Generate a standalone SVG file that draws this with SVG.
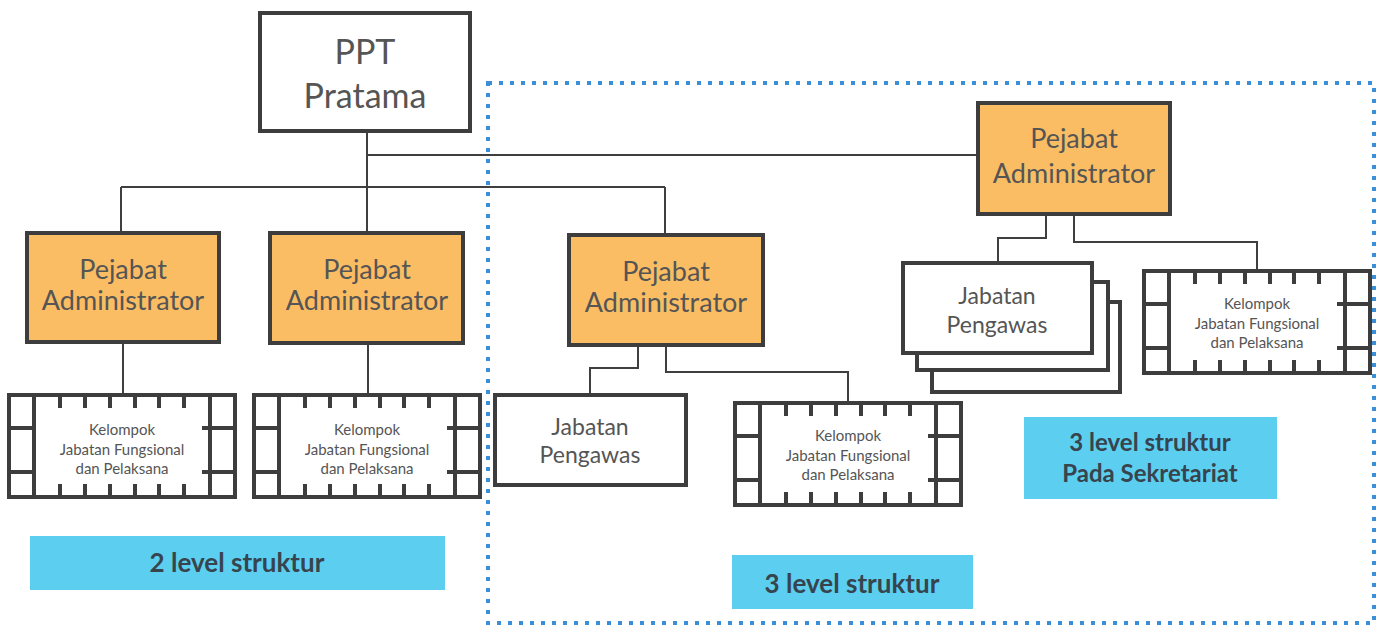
<svg xmlns="http://www.w3.org/2000/svg" xmlns:xlink="http://www.w3.org/1999/xlink" width="1385" height="628" viewBox="0 0 1385 628">
<style>
.box{stroke:#3d3d3d;stroke-width:4;}
.adm{fill:#fabd63;}
.wht{fill:#ffffff;}
.con{fill:none;stroke:#3f3f3f;stroke-width:2;}
.t{font-family:Lato,"Open Sans","Liberation Sans",sans-serif;fill:#555555;text-anchor:middle;}
.big{font-size:34px;}
.mid{font-size:27px;}
.jp{font-size:23px;}
.sm{font-size:15px;}
.lab{fill:#5ccff0;}
.lt{font-family:Lato,"Open Sans","Liberation Sans",sans-serif;font-weight:bold;fill:#37444e;text-anchor:middle;}
.dot{fill:none;stroke:#3a8fd8;stroke-width:4;stroke-dasharray:4 7;}
</style>
<defs>
<symbol id="kel" width="232" height="108" overflow="visible">
<rect x="2" y="2" width="226" height="102" fill="#ffffff" stroke="#3d3d3d" stroke-width="4"/>
<path d="M27 2V104M203 2V104M2 35H27M2 79H27M195 35H228M195 79H228" fill="none" stroke="#3d3d3d" stroke-width="4"/>
<path d="M53 2V15M78 2V15M103 2V15M128 2V15M152 2V15M177 2V15M53 91V104M78 91V104M103 91V104M128 91V104M152 91V104M177 91V104" fill="none" stroke="#3d3d3d" stroke-width="4"/>
</symbol>
</defs>
<rect width="1385" height="628" fill="#ffffff"/>
<rect class="dot" x="488" y="83" width="886" height="540"/>
<g id="connectors">
<path class="con" d="M367 131V187M367 155H978M121 187H665M121 187V233M367 187V233M665 187V235"/>
<path class="con" d="M123 342V393M368 343V393"/>
<path class="con" d="M638 345V368H590V395M666 345V372H848V401"/>
<path class="con" d="M1046 214V238H998V263M1074 214V242H1257V269"/>
</g>
<g id="ppt">
<rect class="box wht" x="260" y="13" width="210" height="118"/>
<text class="t big" x="365" y="64">PPT</text>
<text class="t big" x="365" y="108">Pratama</text>
</g>
<g id="adm1">
<rect class="box adm" x="27" y="233" width="192" height="109"/>
<text class="t mid" x="123" y="279">Pejabat</text>
<text class="t mid" x="123" y="310">Administrator</text>
</g>
<g id="adm2">
<rect class="box adm" x="270" y="233" width="193" height="110"/>
<text class="t mid" x="367" y="279">Pejabat</text>
<text class="t mid" x="367" y="310">Administrator</text>
</g>
<g id="adm3">
<rect class="box adm" x="569" y="235" width="194" height="110"/>
<text class="t mid" x="666" y="281">Pejabat</text>
<text class="t mid" x="666" y="312">Administrator</text>
</g>
<g id="adm4">
<rect class="box adm" x="978" y="103" width="192" height="111"/>
<text class="t mid" x="1074" y="148">Pejabat</text>
<text class="t mid" x="1074" y="183">Administrator</text>
</g>
<g id="kel1">
<use xlink:href="#kel" x="7" y="393"/>
<text class="t sm" x="122" y="435">Kelompok</text>
<text class="t sm" x="122" y="455">Jabatan Fungsional</text>
<text class="t sm" x="122" y="474">dan Pelaksana</text>
</g>
<g id="kel2">
<use xlink:href="#kel" x="252" y="393"/>
<text class="t sm" x="367" y="435">Kelompok</text>
<text class="t sm" x="367" y="455">Jabatan Fungsional</text>
<text class="t sm" x="367" y="474">dan Pelaksana</text>
</g>
<g id="kel3">
<use xlink:href="#kel" x="733" y="401"/>
<text class="t sm" x="848" y="441">Kelompok</text>
<text class="t sm" x="848" y="461">Jabatan Fungsional</text>
<text class="t sm" x="848" y="480">dan Pelaksana</text>
</g>
<g id="kel4">
<use xlink:href="#kel" x="1142" y="269"/>
<text class="t sm" x="1257" y="309">Kelompok</text>
<text class="t sm" x="1257" y="329">Jabatan Fungsional</text>
<text class="t sm" x="1257" y="348">dan Pelaksana</text>
</g>
<g id="pengawas1">
<rect class="box wht" x="495" y="395" width="191" height="90"/>
<text class="t jp" x="590" y="435">Jabatan</text>
<text class="t jp" x="590" y="463">Pengawas</text>
</g>
<g id="pengawas2">
<rect class="box wht" x="932" y="302" width="188" height="90"/>
<rect class="box wht" x="917" y="282" width="191" height="88"/>
<rect class="box wht" x="903" y="263" width="189" height="90"/>
<text class="t jp" x="997" y="304">Jabatan</text>
<text class="t jp" x="997" y="333">Pengawas</text>
</g>
<g id="label1">
<rect class="lab" x="30" y="536" width="415" height="54"/>
<text class="lt" x="237" y="572" font-size="26">2 level struktur</text>
</g>
<g id="label2">
<rect class="lab" x="732" y="555" width="241" height="54"/>
<text class="lt" x="852" y="593" font-size="26">3 level struktur</text>
</g>
<g id="label3">
<rect class="lab" x="1024" y="417" width="253" height="82"/>
<text class="lt" x="1150" y="451" font-size="24">3 level struktur</text>
<text class="lt" x="1150" y="482" font-size="24">Pada Sekretariat</text>
</g>
</svg>
